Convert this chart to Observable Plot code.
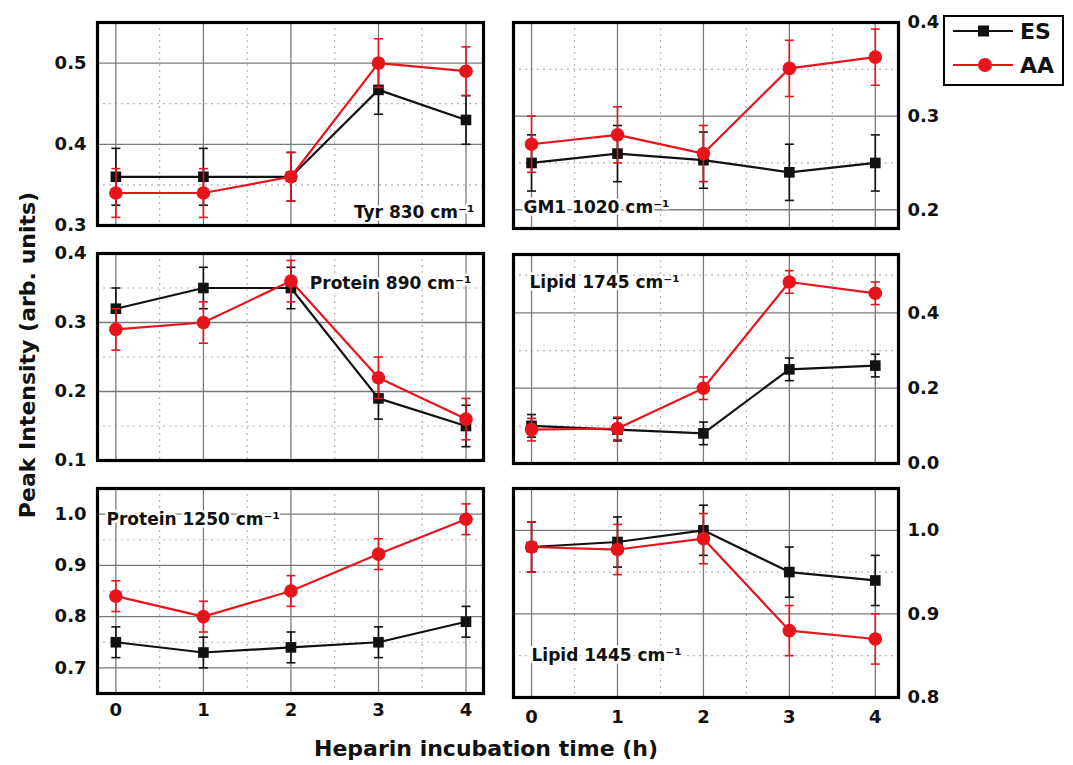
<!DOCTYPE html>
<html><head><meta charset="utf-8">
<script src="https://cdn.jsdelivr.net/npm/d3@7"></script>
<script src="https://cdn.jsdelivr.net/npm/@observablehq/plot@0.6"></script>
<style>
body{margin:0;background:#fff;}
#root{position:relative;width:1073px;height:765px;overflow:hidden;background:#fff;font-family:"DejaVu Sans",sans-serif;font-weight:bold;color:#111;}
.panel{position:absolute;}
.ytitle{position:absolute;left:27px;top:355px;transform:translate(-50%,-50%) rotate(-90deg);white-space:nowrap;font-size:22px;}
.xtitle{position:absolute;left:486px;top:748px;transform:translate(-50%,-50%);white-space:nowrap;font-size:22px;}
.legend{position:absolute;left:943px;top:15px;}
</style></head><body><div id="root"></div><script>
// ---- data ----
const hours = [0, 1, 2, 3, 4];
const hourMinor = [0.5, 1.5, 2.5, 3.5];
const seriesNames = ["ES", "AA"];
const seriesColors = ["#111111", "#e8141c"];
const panelTitles = ["Tyr 830 cm⁻¹", "GM1 1020 cm⁻¹", "Protein 890 cm⁻¹", "Lipid 1745 cm⁻¹", "Protein 1250 cm⁻¹", "Lipid 1445 cm⁻¹"];

// Tyr 830
const tyrES = [0.36, 0.36, 0.36, 0.467, 0.43];
const tyrESerr = [0.035, 0.035, 0.03, 0.03, 0.03];
const tyrAA = [0.34, 0.34, 0.36, 0.50, 0.49];
const tyrAAerr = [0.03, 0.03, 0.03, 0.03, 0.03];
const tyrTicks = [0.3, 0.4, 0.5];
const tyrMinor = [0.35, 0.45];

// GM1 1020
const gmES = [0.25, 0.26, 0.253, 0.24, 0.25];
const gmESerr = [0.03, 0.03, 0.03, 0.03, 0.03];
const gmAA = [0.27, 0.28, 0.26, 0.351, 0.363];
const gmAAerr = [0.03, 0.03, 0.03, 0.03, 0.03];
const gmTicks = [0.2, 0.3, 0.4];
const gmMinor = [0.25, 0.35];

// Protein 890
const p890ES = [0.32, 0.35, 0.35, 0.19, 0.15];
const p890ESerr = [0.03, 0.03, 0.03, 0.03, 0.03];
const p890AA = [0.29, 0.30, 0.36, 0.22, 0.16];
const p890AAerr = [0.03, 0.03, 0.03, 0.03, 0.03];
const p890Ticks = [0.1, 0.2, 0.3, 0.4];
const p890Minor = [0.15, 0.25, 0.35];

// Lipid 1745
const l1745ES = [0.10, 0.09, 0.08, 0.25, 0.26];
const l1745ESerr = [0.03, 0.03, 0.03, 0.03, 0.03];
const l1745AA = [0.09, 0.093, 0.20, 0.482, 0.452];
const l1745AAerr = [0.03, 0.03, 0.03, 0.03, 0.03];
const l1745Ticks = [0.0, 0.2, 0.4];
const l1745Minor = [0.1, 0.3, 0.5];

// Protein 1250
const p1250ES = [0.75, 0.73, 0.74, 0.75, 0.79];
const p1250ESerr = [0.03, 0.03, 0.03, 0.03, 0.03];
const p1250AA = [0.84, 0.80, 0.85, 0.922, 0.99];
const p1250AAerr = [0.03, 0.03, 0.03, 0.03, 0.03];
const p1250Ticks = [0.7, 0.8, 0.9, 1.0];
const p1250Minor = [0.75, 0.85, 0.95];

// Lipid 1445
const l1445ES = [0.98, 0.986, 1.0, 0.95, 0.94];
const l1445ESerr = [0.03, 0.03, 0.03, 0.03, 0.03];
const l1445AA = [0.98, 0.977, 0.99, 0.88, 0.87];
const l1445AAerr = [0.03, 0.03, 0.03, 0.03, 0.03];
const l1445Ticks = [0.8, 0.9, 1.0];
const l1445Minor = [0.85, 0.95];

// ---- layout ----
const FONT = "DejaVu Sans";
const RED = seriesColors[1], BLACK = seriesColors[0];
const LEFT = {fl: 97, fw: 386, xDomain: [-0.21, 4.2]};
const RIGHT = {fl: 513, fw: 385, xDomain: [-0.21, 4.27]};

const panels = [
  {title: panelTitles[0], es: tyrES, esErr: tyrESerr, aa: tyrAA, aaErr: tyrAAerr, yDomain: [0.3, 0.55], ticks: tyrTicks, minor: tyrMinor,
   col: LEFT, side: "left", top: 22, fh: 203, showX: false, lab: {anchor: "bottom-right", dx: -9, dy: -13}},
  {title: panelTitles[1], es: gmES, esErr: gmESerr, aa: gmAA, aaErr: gmAAerr, yDomain: [0.18, 0.40], ticks: gmTicks, minor: gmMinor,
   col: RIGHT, side: "right", top: 22, fh: 206, showX: false, lab: {anchor: "bottom-left", dx: 10, dy: -21}},
  {title: panelTitles[2], es: p890ES, esErr: p890ESerr, aa: p890AA, aaErr: p890AAerr, yDomain: [0.1, 0.4], ticks: p890Ticks, minor: p890Minor,
   col: LEFT, side: "left", top: 253, fh: 207, showX: false, lab: {anchor: "top-right", dx: -12, dy: 30}},
  {title: panelTitles[3], es: l1745ES, esErr: l1745ESerr, aa: l1745AA, aaErr: l1745AAerr, yDomain: [0, 0.555], ticks: l1745Ticks, minor: l1745Minor,
   col: RIGHT, side: "right", top: 254, fh: 209, showX: false, lab: {anchor: "top-left", dx: 16, dy: 28}},
  {title: panelTitles[4], es: p1250ES, esErr: p1250ESerr, aa: p1250AA, aaErr: p1250AAerr, yDomain: [0.65, 1.05], ticks: p1250Ticks, minor: p1250Minor,
   col: LEFT, side: "left", top: 488, fh: 205, showX: true, lab: {anchor: "top-left", dx: 9, dy: 31}},
  {title: panelTitles[5], es: l1445ES, esErr: l1445ESerr, aa: l1445AA, aaErr: l1445AAerr, yDomain: [0.8, 1.05], ticks: l1445Ticks, minor: l1445Minor,
   col: RIGHT, side: "right", top: 488, fh: 209, showX: true, lab: {anchor: "bottom-left", dx: 18, dy: -42}}
];

const capSymbol = {draw(ctx) { ctx.moveTo(-4.5, 0); ctx.lineTo(4.5, 0); }};

function seriesMarks(vals, errs, color, isES) {
  const data = hours.map((t, i) => ({t, v: vals[i], e: errs[i]}));
  return [
    Plot.ruleX(data, {x: "t", y1: d => d.v - d.e, y2: d => d.v + d.e, stroke: color, strokeWidth: 1.6}),
    Plot.dot(data, {x: "t", y: d => d.v + d.e, symbol: capSymbol, fill: "none", stroke: color, strokeWidth: 1.6}),
    Plot.dot(data, {x: "t", y: d => d.v - d.e, symbol: capSymbol, fill: "none", stroke: color, strokeWidth: 1.6}),
    Plot.line(data, {x: "t", y: "v", stroke: color, strokeWidth: 2.2}),
    isES
      ? Plot.dot(data, {x: "t", y: "v", symbol: "square", r: 6, fill: color, stroke: "none"})
      : Plot.dot(data, {x: "t", y: "v", symbol: "circle", r: 6.8, fill: color, stroke: "none"})
  ];
}

const root = document.getElementById("root");

panels.forEach(p => {
  const left = p.side === "left";
  const mL = left ? 62 : 4, mR = left ? 4 : 56;
  const mT = 12, mB = p.showX ? 40 : 10;
  const width = p.col.fw + mL + mR, height = p.fh + mT + mB;
  const chart = Plot.plot({
    width, height,
    marginLeft: mL, marginRight: mR, marginTop: mT, marginBottom: mB,
    x: {domain: p.col.xDomain, axis: null},
    y: {domain: p.yDomain, axis: null},
    style: {fontFamily: FONT, fontSize: "18px", fontWeight: "bold", color: "#111", background: "transparent", overflow: "visible"},
    marks: [
      Plot.gridX(hourMinor, {stroke: "#b5b5b5", strokeOpacity: 1, strokeWidth: 1.2, strokeDasharray: "2,4"}),
      Plot.gridY(p.minor, {stroke: "#b5b5b5", strokeOpacity: 1, strokeWidth: 1.2, strokeDasharray: "2,4"}),
      Plot.gridX(hours, {stroke: "#7a7a7a", strokeOpacity: 1, strokeWidth: 1.3}),
      Plot.gridY(p.ticks, {stroke: "#7a7a7a", strokeOpacity: 1, strokeWidth: 1.3}),
      Plot.text([p.title], {frameAnchor: p.lab.anchor, lineAnchor: "middle", dx: p.lab.dx, dy: p.lab.dy, text: d => d,
        fontSize: 17, fontWeight: "bold", fill: "#111", stroke: "white", strokeWidth: 5}),
      ...seriesMarks(p.es, p.esErr, BLACK, true),
      ...seriesMarks(p.aa, p.aaErr, RED, false),
      Plot.frame({stroke: "#000", strokeWidth: 3.2}),
      Plot.axisY(p.ticks, {anchor: p.side, tickSize: 0, tickPadding: left ? 11 : 9, tickFormat: d3.format(".1f"), label: null,
        fontSize: 18, fontWeight: "bold", fill: "#111"}),
      p.showX ? Plot.axisX(hours, {anchor: "bottom", tickSize: 0, tickPadding: left ? 10 : 13, tickFormat: d => String(d), label: null,
        fontSize: 18, fontWeight: "bold", fill: "#111"}) : null
    ]
  });
  chart.classList.add("panel");
  chart.style.left = (p.col.fl - mL) + "px";
  chart.style.top = (p.top - mT) + "px";
  root.appendChild(chart);
});

// axis titles
const yt = document.createElement("div");
yt.className = "ytitle"; yt.textContent = "Peak Intensity (arb. units)";
root.appendChild(yt);
const xt = document.createElement("div");
xt.className = "xtitle"; xt.textContent = "Heparin incubation time (h)";
root.appendChild(xt);

// legend
const ns = "http://www.w3.org/2000/svg";
const lg = document.createElementNS(ns, "svg");
lg.setAttribute("width", 122); lg.setAttribute("height", 72);
lg.setAttribute("class", "legend");
lg.style.fontFamily = FONT;
function el(tag, attrs, parent) {
  const e = document.createElementNS(ns, tag);
  for (const k in attrs) e.setAttribute(k, attrs[k]);
  (parent || lg).appendChild(e); return e;
}
el("rect", {x: 1, y: 1, width: 119, height: 69, fill: "white", stroke: "#000", "stroke-width": 2});
seriesNames.forEach((name, i) => {
  const y = i === 0 ? 16 : 50;
  el("line", {x1: 10, x2: 70, y1: y, y2: y, stroke: seriesColors[i], "stroke-width": 2});
  if (i === 0) el("rect", {x: 35, y: y - 5.5, width: 11, height: 11, fill: seriesColors[i]});
  else el("circle", {cx: 42, cy: y, r: 7, fill: seriesColors[i]});
  const t = el("text", {x: 77, y: y, "dominant-baseline": "central", "font-size": 22, "font-weight": "bold", fill: "#111"});
  t.textContent = name;
});
root.appendChild(lg);
</script></body></html>
